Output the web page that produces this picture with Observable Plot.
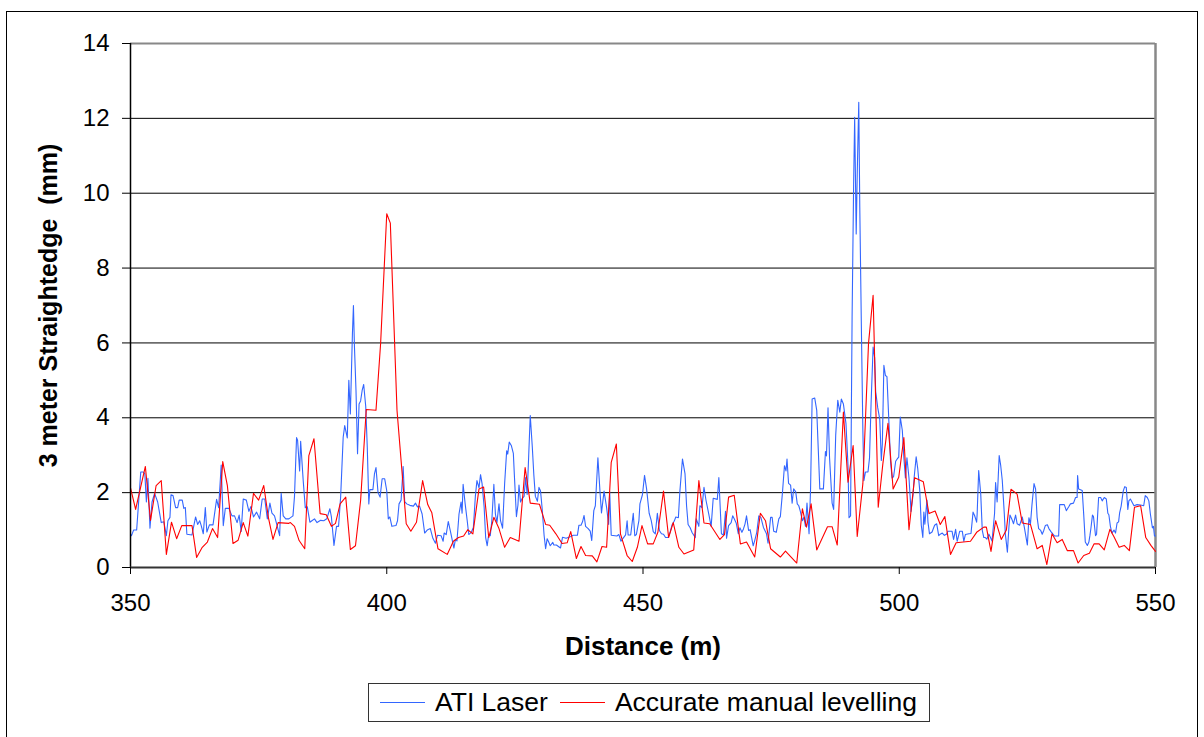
<!DOCTYPE html>
<html>
<head>
<meta charset="utf-8">
<script src="https://cdn.jsdelivr.net/npm/d3@7"></script>
<script src="https://cdn.jsdelivr.net/npm/@observablehq/plot@0.6"></script>
<style>
  html, body { margin: 0; padding: 0; background: #fff; }
  #wrap { position: relative; width: 1204px; height: 737px; overflow: hidden; font-family: "Liberation Sans", Arial, sans-serif; }
  #border { position: absolute; left: 6px; top: 11px; width: 1192px; height: 740px; border: 1px solid #000; box-sizing: border-box; }
  #chart { position: absolute; left: 0; top: 0; }
  #legend { position: absolute; left: 368px; top: 683px; width: 562px; height: 39px; border: 1px solid #333; box-sizing: border-box;
            display: flex; align-items: center; font-size: 26.5px; color: #000; }
  .sw { display: inline-block; width: 45px; height: 0; border-top: 1px solid; }
</style>
</head>
<body>
<div id="wrap">
  <div id="border"></div>
  <div id="chart"></div>
  <div id="legend"></div>
</div>
<script>
// ---- data (distance m, straightedge mm) ----
const seriesNames = ["ATI Laser", "Accurate manual levelling"];
const seriesColors = ["#3366FF", "#FF0000"];
const xTicks = [350, 400, 450, 500, 550];
const yTicks = [0, 2, 4, 6, 8, 10, 12, 14];
const xLabel = "Distance (m)";
const yLabel = "3 meter Straightedge  (mm)";

const atiLaser = [
[350.0,0.9],[350.2,0.85],[350.6,1.0],[351.2,1.0],[352.0,2.55],[352.5,2.55],[352.8,2.5],[353.1,1.75],[353.4,2.38],[353.8,1.05],
[354.2,1.75],[354.7,1.98],[355.3,1.75],[356.0,1.2],[356.5,1.22],[357.0,0.85],[357.3,1.25],[357.7,1.34],[357.9,1.94],[358.3,1.92],
[358.8,1.6],[359.2,1.6],[359.5,1.8],[360.1,1.8],[360.4,1.58],[360.7,1.6],[361.0,0.89],[362.0,0.87],[362.7,1.35],[363.1,1.15],
[363.5,1.25],[363.8,1.12],[364.2,0.9],[364.6,1.6],[364.9,0.95],[365.4,1.14],[366.1,1.14],[366.8,1.82],[367.2,1.6],[367.7,2.74],
[368.1,1.12],[368.5,1.58],[369.2,1.58],[369.8,1.38],[370.3,1.38],[370.8,1.2],[371.2,1.4],[371.6,0.96],[372.0,1.83],[372.6,1.8],
[373.1,1.5],[373.5,1.63],[374.0,1.35],[374.6,1.48],[375.2,1.3],[375.7,1.83],[376.2,1.83],[376.7,1.3],[377.2,1.72],[377.6,1.45],
[378.1,1.38],[378.6,1.12],[379.1,0.85],[379.4,1.98],[379.8,1.38],[380.3,1.3],[380.9,1.3],[381.7,1.38],[382.0,1.9],[382.4,3.47],
[382.6,3.4],[383.0,2.58],[383.2,3.37],[383.7,2.32],[384.1,1.6],[384.5,1.62],[385.0,1.21],[385.4,1.25],[385.9,1.3],[386.4,1.2],
[387.1,1.26],[387.7,1.25],[388.3,1.3],[388.9,1.57],[389.2,1.35],[389.7,0.59],[390.2,1.1],[390.6,1.1],[391.0,1.88],[391.5,3.48],
[391.8,3.79],[392.3,3.46],[392.6,5.0],[392.9,4.1],[393.3,6.24],[393.5,7.0],[393.7,5.89],[394.0,4.73],[394.3,3.04],[394.6,4.37],
[394.9,4.45],[395.2,4.73],[395.5,4.89],[395.9,4.3],[396.2,3.21],[396.5,1.7],[396.7,2.08],[397.3,2.08],[397.6,2.5],[397.9,2.67],
[398.3,2.0],[398.7,1.88],[399.1,2.37],[399.6,2.37],[400.0,2.05],[400.3,1.3],[400.6,1.35],[401.0,1.1],[401.8,1.12],[402.1,1.25],
[402.4,1.7],[402.8,1.8],[403.2,2.7],[403.5,1.76],[403.9,1.7],[404.5,1.66],[405.2,1.64],[405.6,1.72],[406.0,1.62],[406.4,1.64],
[406.9,1.43],[407.4,0.92],[407.9,1.0],[408.5,1.04],[409.0,0.78],[409.5,0.65],[409.9,0.86],[410.6,0.85],[411.0,0.7],[411.2,0.92],
[411.6,0.88],[412.0,1.23],[412.5,0.92],[413.1,0.52],[413.4,0.75],[413.7,0.71],[414.1,1.43],[414.5,1.75],[414.7,1.45],[414.9,2.22],
[415.3,1.7],[415.7,1.25],[416.0,0.88],[416.5,0.94],[416.9,1.07],[417.3,1.92],[417.6,2.32],[418.0,2.13],[418.3,2.48],[418.6,2.24],
[419.0,1.62],[419.3,0.8],[419.6,0.58],[419.9,0.89],[420.2,0.85],[420.5,1.25],[420.9,2.22],[421.2,1.43],[421.5,1.2],[421.9,1.7],
[422.2,1.25],[422.6,1.05],[423.0,2.24],[423.4,3.12],[423.6,3.03],[423.9,3.35],[424.3,3.26],[424.7,3.05],[424.9,2.47],[425.3,1.36],
[425.6,1.67],[425.8,2.2],[426.1,1.75],[426.4,1.84],[426.8,1.9],[427.1,2.4],[427.4,1.95],[427.7,3.0],[428.0,4.06],[428.4,3.22],
[428.7,2.47],[429.0,1.9],[429.4,1.77],[429.7,2.14],[430.0,2.05],[430.3,1.61],[430.7,0.86],[431.0,0.5],[431.3,0.77],[431.6,0.68],
[431.9,0.58],[432.4,0.67],[432.6,0.6],[433.1,0.6],[433.9,0.52],[434.3,0.81],[435.0,0.78],[435.9,0.83],[436.4,0.86],[437.2,0.86],
[437.5,1.13],[437.9,1.13],[438.2,1.22],[438.5,1.39],[438.8,1.1],[439.3,1.04],[439.7,0.97],[440.0,0.72],[440.4,1.52],[440.7,1.65],
[441.2,2.93],[441.6,2.04],[441.9,1.46],[442.4,2.04],[442.9,1.6],[443.3,1.15],[443.5,2.02],[443.8,0.86],[444.9,0.84],[445.3,0.88],
[445.7,0.7],[446.1,0.78],[446.6,0.87],[446.9,1.25],[447.1,0.87],[447.6,0.87],[448.1,1.45],[448.4,0.85],[448.7,0.88],[449.2,1.25],
[449.4,1.7],[449.9,1.95],[450.3,2.46],[450.7,2.1],[451.2,1.45],[451.6,1.26],[452.0,0.96],[452.4,0.9],[452.8,1.45],[453.2,0.99],
[453.6,0.9],[454.0,0.89],[454.4,0.8],[454.9,0.8],[455.3,0.95],[455.7,1.15],[456.1,1.24],[456.4,1.35],[456.9,1.33],[457.2,2.04],
[457.7,2.9],[458.2,2.5],[458.5,1.65],[458.8,1.15],[459.2,1.06],[459.6,0.93],[460.2,0.8],[460.4,1.3],[460.9,1.1],[461.1,1.65],
[461.5,1.6],[461.9,2.14],[462.3,1.79],[462.7,1.52],[463.3,1.1],[463.7,1.85],[464.5,1.82],[464.8,2.4],[465.3,0.9],[465.7,0.87],
[466.1,1.5],[466.3,0.78],[466.7,1.12],[467.2,1.2],[467.5,1.38],[467.8,1.3],[468.2,1.18],[468.6,0.9],[468.9,1.06],[469.3,0.94],
[469.6,1.03],[469.9,1.16],[470.2,1.38],[470.6,0.99],[470.9,1.01],[471.2,0.8],[471.5,0.58],[471.8,0.72],[472.2,0.94],[472.6,1.38],
[473.0,1.34],[473.5,1.07],[474.1,0.9],[474.4,0.65],[474.9,1.34],[475.2,1.34],[475.5,0.97],[476.0,0.94],[476.5,1.3],[476.8,1.36],
[477.2,1.98],[477.6,2.72],[477.9,2.58],[478.1,2.9],[478.4,2.25],[478.8,2.2],[479.1,1.72],[479.4,2.1],[479.8,2.02],[480.1,1.7],
[480.4,1.65],[480.7,1.5],[481.1,1.25],[481.4,1.34],[481.7,1.1],[482.0,1.72],[482.4,0.9],[482.7,2.12],[483.0,4.5],[483.5,4.53],
[483.9,4.2],[484.2,3.15],[484.5,2.1],[485.2,2.1],[485.6,3.1],[485.8,2.98],[486.1,4.27],[486.4,2.93],[486.9,1.72],[487.2,1.55],
[487.6,3.53],[488.0,4.47],[488.4,4.15],[488.7,4.5],[489.1,4.37],[489.6,3.85],[490.0,2.73],[490.2,1.33],[490.5,1.38],[490.8,6.69],
[491.1,10.25],[491.3,12.03],[491.6,8.91],[491.8,10.5],[492.1,12.43],[492.3,9.62],[492.6,6.51],[492.9,3.66],[493.1,2.32],[493.4,2.55],
[493.9,2.55],[494.2,2.93],[494.5,4.37],[494.9,5.89],[495.2,5.6],[495.4,4.7],[495.8,4.27],[496.2,3.96],[496.5,2.86],[496.7,3.3],
[497.0,5.4],[497.3,5.13],[497.6,5.1],[498.0,3.83],[498.3,2.84],[498.6,2.39],[498.9,2.43],[499.3,2.84],[499.6,2.9],[499.9,2.95],
[500.2,4.02],[500.6,3.66],[500.9,2.93],[501.2,2.39],[501.5,2.93],[501.9,2.39],[502.3,1.5],[502.7,1.95],[502.9,2.39],[503.3,2.96],
[503.6,2.65],[504.0,2.06],[504.3,1.13],[504.6,0.8],[504.8,1.48],[505.0,1.16],[505.2,1.48],[505.4,1.8],[505.6,1.22],[505.9,0.9],
[506.4,0.95],[506.9,1.13],[507.3,1.17],[507.7,0.85],[508.0,0.89],[508.4,0.92],[508.8,0.86],[509.2,0.89],[509.5,0.97],[510.3,0.97],
[510.6,0.75],[511.0,1.02],[511.3,0.7],[511.8,0.97],[512.3,0.97],[512.6,0.7],[512.9,0.88],[513.6,0.9],[514.0,0.91],[514.4,1.48],
[514.7,1.39],[515.1,1.21],[515.2,1.43],[515.5,2.59],[515.9,1.96],[516.2,0.99],[516.5,0.8],[516.8,0.8],[517.1,0.76],[517.5,0.89],
[517.8,0.8],[518.1,0.71],[518.6,1.45],[518.8,2.27],[519.1,1.75],[519.5,2.99],[519.8,2.72],[520.1,2.33],[520.3,1.88],[520.5,1.43],
[520.7,0.9],[521.1,0.41],[521.4,1.08],[521.6,1.4],[522.0,1.28],[522.3,1.17],[522.7,1.4],[523.0,1.17],[523.5,1.13],[524.0,1.35],
[524.4,1.08],[525.0,0.6],[525.3,1.33],[525.6,1.16],[525.9,1.68],[526.3,2.24],[526.6,2.1],[526.9,1.34],[527.2,1.04],[527.6,0.99],
[527.9,0.89],[528.2,0.99],[528.5,1.12],[528.9,1.14],[529.2,1.04],[529.6,0.96],[530.0,0.89],[530.3,0.84],[531.1,0.84],[531.3,1.68],
[532.2,1.68],[532.6,1.52],[533.1,1.63],[533.4,1.7],[534.0,1.72],[534.4,1.87],[534.7,1.87],[534.8,2.46],[535.0,2.1],[535.7,2.06],
[536.0,1.4],[536.3,0.68],[536.7,0.59],[537.0,0.68],[537.2,0.85],[537.4,1.05],[537.7,1.4],[537.9,1.36],[538.3,0.85],[538.5,0.89],
[538.9,1.87],[539.3,1.87],[539.6,1.78],[540.0,1.87],[540.4,1.83],[540.7,1.45],[540.9,1.41],[541.2,1.1],[541.5,0.92],[541.9,1.0],
[542.2,0.92],[542.5,1.19],[542.8,1.22],[543.0,1.46],[543.3,1.64],[543.7,2.04],[544.0,2.16],[544.3,2.14],[544.6,1.55],[544.8,1.78],
[545.1,1.83],[545.8,1.65],[546.4,1.68],[547.1,1.67],[547.7,1.65],[548.0,1.92],[548.4,1.87],[548.7,1.78],[549.0,1.43],[549.4,1.06],
[549.6,1.1],[549.8,0.84],[550.0,0.84]
];

const manualLevelling = [
[350.0,2.13],[351.0,1.55],[352.9,2.7],[353.9,1.26],[355.0,2.19],[356.0,2.32],[357.0,0.35],[358.0,1.21],[359.0,0.77],[360.0,1.12],
[362.0,1.12],[362.9,0.27],[364.0,0.54],[365.0,0.68],[366.0,1.04],[367.0,0.8],[368.0,2.83],[368.9,2.19],[370.0,0.64],[371.0,0.73],
[372.0,1.2],[372.9,0.84],[374.0,1.98],[375.0,1.8],[376.0,2.19],[376.9,1.34],[377.8,0.75],[378.8,1.2],[380.9,1.18],[381.2,1.2],
[382.0,1.1],[382.9,0.72],[384.0,0.5],[384.8,2.99],[385.8,3.44],[387.0,1.44],[388.2,1.41],[389.2,1.1],[390.0,1.18],[390.9,1.7],
[392.0,1.88],[392.9,0.48],[393.9,0.58],[394.9,1.79],[396.0,4.22],[397.9,4.2],[398.8,5.98],[400.0,9.45],[400.7,9.2],[402.0,4.2],
[403.8,1.17],[404.7,0.97],[405.8,1.21],[407.0,2.32],[408.0,1.68],[408.8,1.46],[410.0,0.5],[411.8,0.35],[413.0,0.7],[414.0,0.8],
[415.0,0.84],[415.8,1.01],[416.8,0.9],[418.0,2.1],[418.9,2.15],[419.9,0.8],[420.9,1.34],[421.9,1.04],[423.0,0.54],[424.1,0.8],
[425.8,0.7],[427.0,2.67],[428.0,1.72],[429.8,1.69],[431.0,1.15],[431.8,1.13],[433.0,0.9],[434.2,0.64],[435.2,0.66],[435.9,0.96],
[437.0,0.24],[437.9,0.56],[438.8,0.32],[440.1,0.31],[441.0,0.15],[442.0,0.56],[442.9,0.54],[443.8,2.81],[444.8,3.3],[445.6,0.9],
[446.9,0.32],[447.9,0.16],[448.9,0.54],[449.8,1.12],[450.9,0.63],[452.0,0.63],[452.9,0.94],[454.0,2.04],[455.0,0.8],[455.9,1.2],
[457.0,0.54],[458.0,0.36],[459.9,0.47],[460.9,2.32],[461.9,1.19],[463.0,1.17],[465.0,0.75],[465.9,0.88],[466.7,1.88],[467.8,1.93],
[469.0,0.63],[470.2,0.68],[471.8,0.28],[472.9,1.45],[473.9,1.25],[474.9,0.5],[476.8,0.28],[477.8,0.44],[480.0,0.12],[481.1,1.57],
[481.9,1.08],[482.8,1.7],[483.9,0.47],[486.0,1.09],[486.9,1.09],[487.9,0.6],[489.1,4.15],[490.0,2.28],[491.0,3.26],[491.8,0.83],
[492.9,2.24],[494.0,5.98],[494.9,7.27],[495.9,1.61],[496.8,2.77],[497.8,3.85],[498.8,2.1],[499.9,2.41],[500.9,3.47],[501.9,1.01],
[503.0,2.4],[504.7,2.29],[505.8,1.44],[507.0,1.51],[508.0,1.15],[508.9,1.36],[510.0,0.35],[511.1,0.66],[513.9,0.7],[515.1,0.94],
[516.5,1.08],[517.0,1.08],[517.9,0.43],[518.8,1.25],[519.9,0.75],[520.9,1.0],[521.8,2.09],[523.0,1.96],[524.0,1.19],[525.6,1.15],
[526.9,0.5],[527.9,0.59],[528.8,0.08],[529.8,0.9],[530.8,0.66],[531.8,0.75],[532.8,0.45],[534.0,0.45],[534.9,0.12],[536.0,0.32],
[537.1,0.38],[538.0,0.63],[539.0,0.63],[540.0,0.47],[541.1,1.02],[541.9,0.82],[542.9,0.54],[543.9,0.59],[544.9,0.45],[545.9,1.61],
[547.1,1.65],[548.1,0.8],[549.1,0.59],[550.0,0.43]
];

const seriesData = [atiLaser, manualLevelling];

const chart = Plot.plot({
  width: 1204,
  height: 665,
  marginLeft: 130,
  marginRight: 49,
  marginTop: 43,
  marginBottom: 98,
  style: { fontFamily: "'Liberation Sans', Arial, sans-serif", fontSize: "24px", color: "#000", background: "transparent", overflow: "visible" },
  x: { domain: [xTicks[0], xTicks[xTicks.length - 1]] },
  y: { domain: [yTicks[0], yTicks[yTicks.length - 1]] },
  marks: [
    Plot.ruleY(yTicks.slice(1, -1), { stroke: "#000", strokeWidth: 1 }),
    Plot.ruleY([yTicks[yTicks.length - 1]], { stroke: "#888", strokeWidth: 2 }),
    Plot.ruleX([xTicks[xTicks.length - 1]], { stroke: "#888", strokeWidth: 2.5 }),
    ...seriesData.map((s, i) => Plot.line(s, { x: d => d[0], y: d => d[1], stroke: seriesColors[i], strokeWidth: 1.1, curve: "linear" })),
    Plot.ruleX([xTicks[0]], { stroke: "#000", strokeWidth: 1.5 }),
    Plot.ruleY([yTicks[0]], { stroke: "#333", strokeWidth: 2 }),
    Plot.axisY({ ticks: yTicks, tickSize: 8, tickPadding: 13, tickFormat: d => String(d), label: null, stroke: "#000" }),
    Plot.axisX({ ticks: xTicks, tickSize: 7, tickPadding: 19, tickFormat: d => String(d), label: null, stroke: "#000" }),
    Plot.text([xLabel], { frameAnchor: "bottom", dy: 87, textAnchor: "middle", fontWeight: "bold", fontSize: 26, fill: "#000" }),
    Plot.text([yLabel], { frameAnchor: "left", rotate: -90, dx: -82, textAnchor: "middle", fontWeight: "bold", fontSize: 25, fill: "#000" })
  ]
});
document.getElementById("chart").appendChild(chart);

// legend
const legend = document.getElementById("legend");
seriesNames.forEach((name, i) => {
  const sw = document.createElement("span");
  sw.className = "sw";
  sw.style.borderTopColor = seriesColors[i];
  sw.style.marginLeft = i === 0 ? "11px" : "12px";
  sw.style.marginRight = "10px";
  const t = document.createElement("span");
  t.textContent = name;
  legend.appendChild(sw);
  legend.appendChild(t);
});
</script>
</body>
</html>
